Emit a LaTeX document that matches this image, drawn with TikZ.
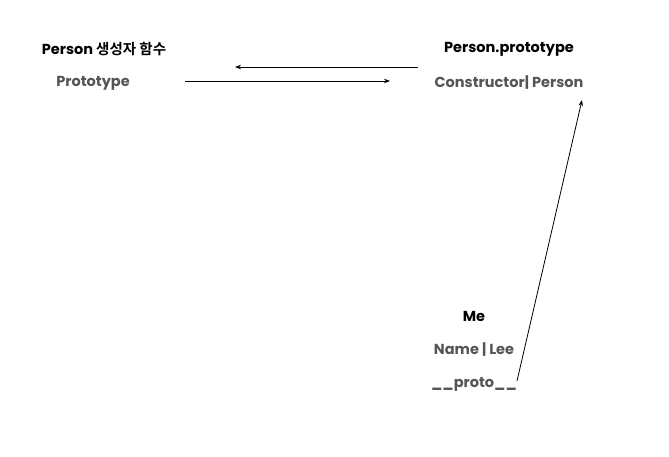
\documentclass[tikz,border=0pt]{standalone}
\usepackage{fontspec}
\setmainfont{Poppins}
\newfontfamily\krfont{Noto Sans CJK KR}[BoldFont={* Bold}]
\usetikzlibrary{arrows.meta}
\definecolor{txtgray}{HTML}{555555}
\tikzset{
  title/.style={font=\bfseries\fontsize{14.5}{17}\selectfont, text=black, inner sep=0pt},
  field/.style={font=\bfseries\fontsize{14.5}{17}\selectfont, text=txtgray, inner sep=0pt},
  link/.style={line width=0.8pt, -{Stealth[length=6pt,width=4.5pt]}}
}
\begin{document}
\begin{tikzpicture}[x=1pt,y=-1pt]
\useasboundingbox (0,0) rectangle (669,456);
\node[title] (pc) at (104,49) {Person {\krfont\bfseries 생성자 함수}};
\node[field] (pp) at (93,83) {Prototype};
\node[title] (proto) at (509,49) {Person.prototype};
\node[field] (ctor) at (509,83) {Constructor| Person};
\node[title] (me) at (474,316) {Me};
\node[field] (name) at (474,350) {Name | Lee};
\node[field] (dp) at (474,384) {\_\_proto\_\_};
\coordinate (a1s) at (418,67);
\coordinate (a1e) at (235,67);
\coordinate (a2s) at (185,81);
\coordinate (a2e) at (390,81);
\coordinate (a3s) at (517,381);
\coordinate (a3e) at (582,100);
\draw[link] (a1s) -- (a1e);
\draw[link] (a2s) -- (a2e);
\draw[link] (a3s) -- (a3e);
\end{tikzpicture}
\end{document}
